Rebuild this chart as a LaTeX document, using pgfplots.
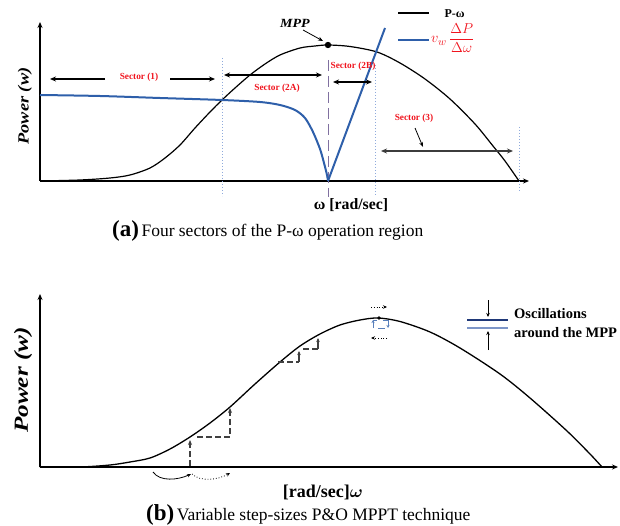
\documentclass[border=0pt]{standalone}
\usepackage{pgfplots}
\pgfplotsset{compat=1.18}
\usepackage{amsmath}
\usepackage{fontspec}
\setmainfont{Liberation Serif}
\usetikzlibrary{arrows.meta}
\definecolor{cblue}{RGB}{46,95,170}
\definecolor{cred}{RGB}{240,20,30}
\definecolor{cdot}{RGB}{143,170,220}
\definecolor{cpurp}{RGB}{128,112,160}
\definecolor{cnavy}{RGB}{31,56,120}
\definecolor{csteel}{RGB}{125,150,200}
\definecolor{carr}{RGB}{60,60,60}
\begin{document}
\begin{tikzpicture}[>={Stealth[length=6pt,width=5pt]}]
\begin{axis}[width=620pt,height=526pt,scale only axis,xmin=0,xmax=620,ymin=0,ymax=526,
  y dir=reverse,axis lines=none,clip=false]
\path (axis cs:0,0) rectangle (axis cs:620,526);
% ================= TOP PANEL =================
% axes
\draw[line width=1.5pt,->] (axis cs:40,181) -- (axis cs:40,22);
\draw[line width=1.5pt,->] (axis cs:40,181) -- (axis cs:529,181);
% guide lines
\draw[cdot,line width=1pt,dotted] (axis cs:222,58) -- (axis cs:222,196);
\draw[cdot,line width=1pt,dotted] (axis cs:375,65) -- (axis cs:375,196);
\draw[cdot,line width=1pt,dotted] (axis cs:519,127) -- (axis cs:519,192);
\draw[cpurp,line width=1pt,dash pattern=on 11pt off 5pt] (axis cs:328,60) -- (axis cs:328,197);
% P-omega curve
\addplot[black,line width=1.2pt,smooth] coordinates {
(40,181)(80,180)(110,178)(130,175)(150,168)(165,158)(180,145)(195,128)(210,112)(222,100)
(235,88)(250,75)(265,64)(280,55)(300,48)(315,46)(328,45)(350,46.5)(377,52)(400,63)(425,79)
(450,99)(475,124)(493,146)(505,161)(519,181)};
% v_w dP/dw curve
\addplot[cblue,line width=2pt,smooth] coordinates {
(40,95)(100,96)(160,98)(222,100)(260,102)(280,105)(295,110)(305,118)(313,132)(320,149)
(324,163)(327,175)(328,181)};
\addplot[cblue,line width=2pt] coordinates {(328,181)(385,28)};
% MPP
\fill (axis cs:328,45) circle[radius=3.2pt];
\node[font=\bfseries\itshape\fontsize{12.5}{13}\selectfont] at (axis cs:295,23) {\scalebox{1.12}[1]{MPP}};
\draw[line width=0.8pt,-{Stealth[length=5pt,width=4pt]}] (axis cs:303,30) -- (axis cs:323,41);
% sector arrows
\draw[line width=1.3pt,->] (axis cs:105,79) -- (axis cs:50,79);
\draw[line width=1.3pt,->] (axis cs:170,79) -- (axis cs:215,79);
\node[font=\bfseries\fontsize{9.3}{10}\selectfont,text=cred] at (axis cs:139,77) {Sector (1)};
\draw[line width=1.3pt,<->] (axis cs:224,75) -- (axis cs:322,75);
\node[font=\bfseries\fontsize{9.3}{10}\selectfont,text=cred] at (axis cs:277,88) {Sector (2A)};
\draw[line width=1.3pt,<->] (axis cs:333,82) -- (axis cs:372,82);
\node[font=\bfseries\fontsize{9.3}{10}\selectfont,text=cred] at (axis cs:353,66) {Sector (2B)};
\node[font=\bfseries\fontsize{9.3}{10}\selectfont,text=cred] at (axis cs:414,118) {Sector (3)};
\draw[line width=0.8pt,-{Stealth[length=5pt,width=4pt]}] (axis cs:415,128) -- (axis cs:423,147);
\draw[carr,line width=1.3pt,<->] (axis cs:381,151) -- (axis cs:513,151);
% legend
\draw[black,line width=2pt] (axis cs:398,13) -- (axis cs:429,13);
\node[font=\bfseries\fontsize{12}{13}\selectfont,anchor=west] at (axis cs:441,14) {P-ω};
\draw[cblue,line width=2pt] (axis cs:398,40) -- (axis cs:429,40);
\node[text=cred,anchor=west,inner sep=0pt,font=\fontsize{15.5}{16}\selectfont] at (axis cs:431,38) {$v_w\,\dfrac{\Delta P}{\Delta\omega}$};
% labels
\node[rotate=90,font=\bfseries\itshape\fontsize{15.5}{16}\selectfont] at (axis cs:25,106) {\scalebox{1.18}[1]{Power (w)}};
\node[font=\bfseries\fontsize{15.8}{17}\selectfont] at (axis cs:351,205) {ω [rad/sec]};
\node[anchor=west,inner sep=0pt] at (axis cs:112,231) {{\bfseries\fontsize{23}{24}\selectfont(a)} \fontsize{17.5}{19}\selectfont Four sectors of the P-ω operation region};
% ================= BOTTOM PANEL =================
\draw[line width=1.5pt,->] (axis cs:40,467) -- (axis cs:40,294);
\draw[line width=1.5pt,->] (axis cs:40,467) -- (axis cs:618,467);
\addplot[black,line width=1.3pt,smooth] coordinates {
(40,467)(80,467)(110,465)(130,462)(150,458)(170,449)(190,437)(210,423)(230,407)(255,384)
(280,362)(300,346)(320,334)(340,325)(360,320)(378,318)(400,321.5)(430,332)(460,348)
(500,374)(530,398)(567,431)(590,454)(602,467)};
% steps
\draw[black!75,line width=1.1pt,dash pattern=on 6pt off 3pt,-{Stealth[length=5pt,width=4pt]}] (axis cs:190,466) -- (axis cs:190,440);
\draw[black!75,line width=1.1pt,dash pattern=on 6pt off 3pt] (axis cs:197,437) -- (axis cs:230,437) -- (axis cs:230,415);
\draw[black!75,line width=1.1pt,-{Stealth[length=5pt,width=4pt]}] (axis cs:230,415) -- (axis cs:230,408);
\draw[black!75,line width=1.1pt,dash pattern=on 6pt off 3pt] (axis cs:278,362) -- (axis cs:299,362);
\draw[black!75,line width=1.1pt,-{Stealth[length=4pt,width=3.5pt]}] (axis cs:299,362) -- (axis cs:299,351);
\draw[black!75,line width=1.1pt,dash pattern=on 6pt off 3pt] (axis cs:303,349) -- (axis cs:318,349);
\draw[black!75,line width=1.1pt,-{Stealth[length=4pt,width=3.5pt]}] (axis cs:318,349) -- (axis cs:318,338);
% curved arrows
\draw[black,line width=0.8pt,-{Stealth[length=4pt,width=3.5pt]}] (axis cs:153,472) .. controls (axis cs:160,482) and (axis cs:178,480) .. (axis cs:191,474);
\draw[black,line width=0.8pt,dotted,-{Stealth[length=4pt,width=3.5pt]}] (axis cs:192,474) .. controls (axis cs:200,482) and (axis cs:218,480) .. (axis cs:230,473);
% oscillation at peak
\fill (axis cs:379,318) circle[radius=1.8pt];
\draw[black,line width=0.8pt,dotted,-{Stealth[length=4pt,width=3.5pt]}] (axis cs:371,307) -- (axis cs:387,307);
\draw[black,line width=0.8pt,dotted,-{Stealth[length=4pt,width=3.5pt]}] (axis cs:387,338) -- (axis cs:371,338);
\draw[cblue!80,line width=1pt,-{Stealth[length=3pt,width=3pt]}] (axis cs:373,328) -- (axis cs:373,320);
\draw[cblue!80,line width=1pt] (axis cs:373,320) -- (axis cs:377,320);
\draw[cblue!80,line width=1pt] (axis cs:383,320) -- (axis cs:388,320);
\draw[cblue!80,line width=1pt] (axis cs:378,328) -- (axis cs:385,328);
\draw[cblue!80,line width=1pt,-{Stealth[length=3pt,width=3pt]}] (axis cs:388,320) -- (axis cs:388,328);
% oscillation legend
\draw[cnavy,line width=1.2pt] (axis cs:467,320) -- (axis cs:508,320);
\draw[csteel,line width=1.6pt] (axis cs:467,328) -- (axis cs:508,328);
\draw[line width=0.8pt,-{Stealth[length=4pt,width=3.5pt]}] (axis cs:488,300) -- (axis cs:488,317);
\draw[line width=0.8pt,-{Stealth[length=4pt,width=3.5pt]}] (axis cs:488,350) -- (axis cs:488,331);
\node[anchor=west,inner sep=0pt,font=\bfseries\fontsize{14.5}{15}\selectfont] at (axis cs:514,314) {Oscillations};
\node[anchor=west,inner sep=0pt,font=\bfseries\fontsize{14.5}{15}\selectfont] at (axis cs:514,333) {around the MPP};
% labels
\node[rotate=90,font=\bfseries\itshape\fontsize{20}{21}\selectfont] at (axis cs:23,380) {\scalebox{1.26}[1]{Power (w)}};
\node[font=\bfseries\fontsize{18}{19}\selectfont] at (axis cs:323,492) {[rad/sec]$\boldsymbol{\omega}$};
\node[anchor=west,inner sep=0pt] at (axis cs:146,515) {{\bfseries\fontsize{23}{24}\selectfont(b)} \fontsize{17.5}{19}\selectfont Variable step-sizes P\&O MPPT technique};
\end{axis}
\end{tikzpicture}
\end{document}
